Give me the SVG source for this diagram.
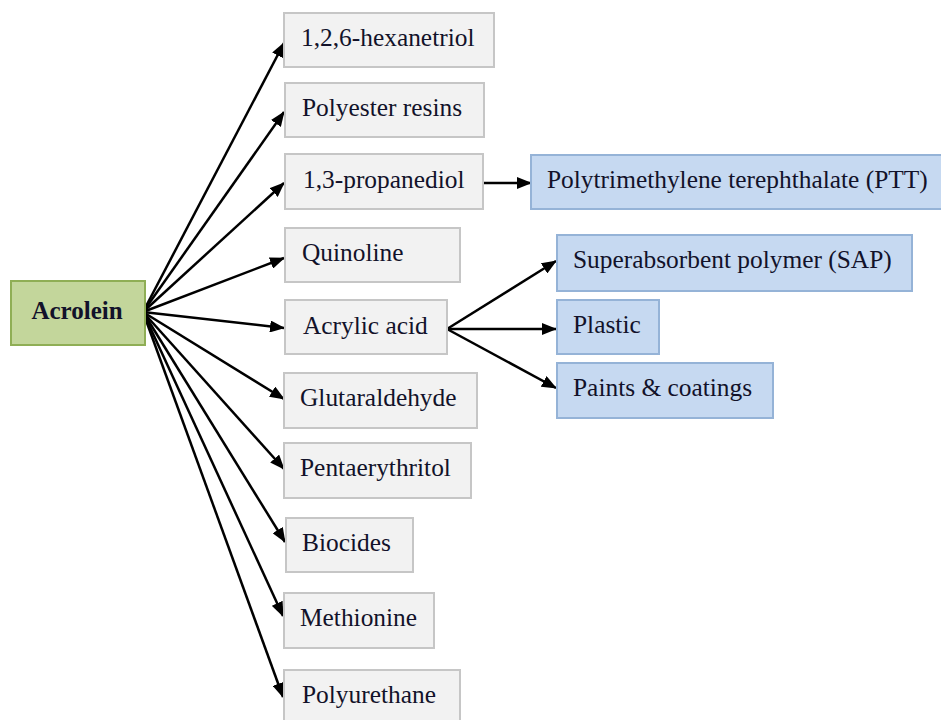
<svg xmlns="http://www.w3.org/2000/svg" width="941" height="720" viewBox="0 0 941 720">
<defs>
<marker id="ah" markerUnits="userSpaceOnUse" markerWidth="15" markerHeight="12" refX="14" refY="6" orient="auto">
<path d="M0,0 L15,6 L0,12 Z" fill="#000"/>
</marker>
<style>
.g{fill:#f2f2f2;stroke:#c6c6c6;stroke-width:2}
.b{fill:#c6d9f1;stroke:#95b3d7;stroke-width:2}
.a{fill:#c3d69b;stroke:#8fae55;stroke-width:2}
text{font-family:"Liberation Serif","Times New Roman",serif;font-size:25.4px;fill:#12122a}
.c line{stroke:#000;stroke-width:2.5;marker-end:url(#ah)}
</style>
</defs>
<rect width="941" height="720" fill="#fff"/>
<g class="c" id="connectors">
<line x1="143" y1="312" x2="284" y2="43"/>
<line x1="143" y1="312" x2="284" y2="112"/>
<line x1="143" y1="312" x2="284" y2="183"/>
<line x1="143" y1="312" x2="284" y2="258"/>
<line x1="143" y1="312" x2="284" y2="328"/>
<line x1="143" y1="312" x2="284" y2="399"/>
<line x1="143" y1="312" x2="284" y2="469"/>
<line x1="143" y1="312" x2="285" y2="542"/>
<line x1="143" y1="312" x2="283" y2="616"/>
<line x1="143" y1="312" x2="283" y2="697"/>
<line x1="484" y1="183" x2="531" y2="183"/>
<line x1="447" y1="329" x2="556" y2="261"/>
<line x1="447" y1="329" x2="556" y2="329"/>
<line x1="447" y1="329" x2="556" y2="388"/>
</g>
<g id="acrolein"><rect class="a" x="11" y="281" width="134" height="64"/><text x="77" y="319" text-anchor="middle" font-weight="bold" style="font-size:25px">Acrolein</text></g>
<g id="hexanetriol"><rect class="g" x="284" y="13" width="210" height="54"/><text x="301" y="46">1,2,6-hexanetriol</text></g>
<g id="polyester"><rect class="g" x="285" y="83" width="199" height="54"/><text x="302" y="116">Polyester resins</text></g>
<g id="propanediol"><rect class="g" x="285" y="154" width="198" height="55"/><text x="303" y="188">1,3-propanediol</text></g>
<g id="quinoline"><rect class="g" x="285" y="228" width="175" height="54"/><text x="302" y="261">Quinoline</text></g>
<g id="acrylic"><rect class="g" x="285" y="300" width="162" height="54"/><text x="303" y="334">Acrylic acid</text></g>
<g id="glutaraldehyde"><rect class="g" x="284" y="373" width="193" height="55"/><text x="300" y="406">Glutaraldehyde</text></g>
<g id="pentaerythritol"><rect class="g" x="284" y="443" width="187" height="55"/><text x="300" y="476">Pentaerythritol</text></g>
<g id="biocides"><rect class="g" x="286" y="518" width="127" height="54"/><text x="302" y="551">Biocides</text></g>
<g id="methionine"><rect class="g" x="284" y="593" width="150" height="55"/><text x="300" y="626">Methionine</text></g>
<g id="polyurethane"><rect class="g" x="284" y="670" width="176" height="60"/><text x="302" y="703">Polyurethane</text></g>
<g id="ptt"><rect class="b" x="531" y="155" width="420" height="54"/><text x="547" y="188">Polytrimethylene terephthalate (PTT)</text></g>
<g id="sap"><rect class="b" x="557" y="235" width="355" height="56"/><text x="573" y="268">Superabsorbent polymer (SAP)</text></g>
<g id="plastic"><rect class="b" x="557" y="300" width="102" height="54"/><text x="573" y="333">Plastic</text></g>
<g id="paints"><rect class="b" x="557" y="363" width="216" height="55"/><text x="573" y="396">Paints &amp; coatings</text></g>
</svg>
